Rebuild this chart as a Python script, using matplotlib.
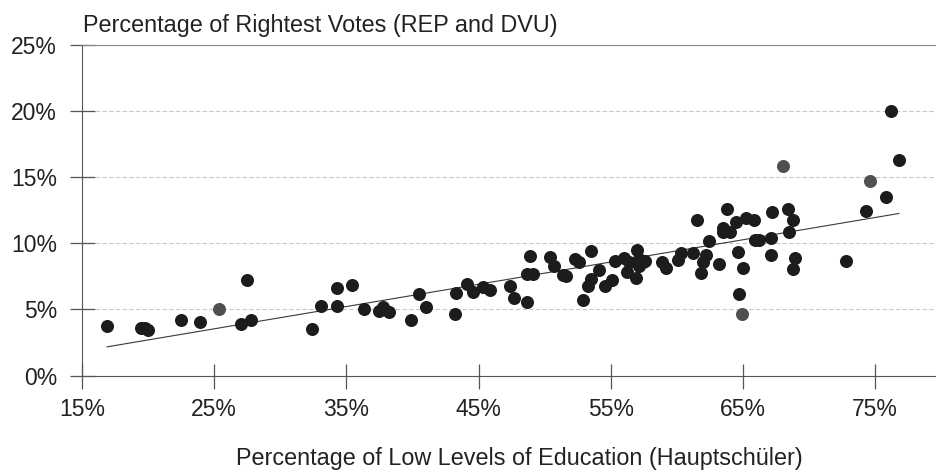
import numpy as np
import matplotlib
matplotlib.use('Agg')
import matplotlib.pyplot as plt
from matplotlib.ticker import PercentFormatter

plt.rcParams['font.family'] = ['Liberation Sans', 'DejaVu Sans']

# low education share (%) and rightist vote share (%), dark points
edu = [16.9, 19.5, 19.8, 20.0, 22.5, 23.9, 27.5, 27.0, 27.8,
       32.4, 33.1, 34.3, 34.3, 35.4, 36.3, 37.5, 37.8, 38.2, 39.9,
       40.5, 41.0, 43.3, 43.2, 44.1, 44.6, 45.3, 45.9, 47.4, 47.7,
       48.7, 48.9, 48.7, 49.1, 50.4, 50.7, 51.4, 51.6, 52.3, 52.6,
       53.5, 52.9, 53.3, 53.5, 54.1, 54.6, 55.1, 55.3, 56.0, 56.2,
       56.4, 56.9, 57.0, 57.1, 57.4, 57.6, 57.1, 58.9, 59.2, 60.1,
       60.3, 61.2, 61.5, 61.8, 62.0, 62.2, 62.4, 63.2, 63.5, 63.5,
       63.8, 64.0, 64.5, 64.6, 65.0, 64.7, 65.2, 65.8, 65.9, 66.2,
       67.1, 67.1, 67.2, 68.4, 68.5, 68.8, 68.9, 68.8, 72.8, 74.3,
       75.8, 76.2, 76.8]
votes = [3.77, 3.57, 3.62, 3.42, 4.23, 4.03, 7.23, 3.92, 4.18,
         3.55, 5.27, 6.60, 5.27, 6.88, 5.01, 4.89, 5.21, 4.79, 4.20,
         6.20, 5.19, 6.23, 4.63, 6.93, 6.33, 6.68, 6.48, 6.78, 5.87,
         5.57, 9.05, 7.67, 7.67, 8.95, 8.27, 7.59, 7.49, 8.80, 8.60,
         9.41, 5.70, 6.78, 7.31, 7.97, 6.80, 7.21, 8.67, 8.92, 7.82,
         8.60, 7.35, 9.52, 8.85, 8.55, 8.65, 8.25, 8.62, 8.12, 8.75,
         9.26, 9.26, 11.78, 7.74, 8.62, 9.13, 10.14, 8.45, 11.15, 10.82,
         12.59, 10.82, 11.58, 9.33, 8.17, 6.17, 11.88, 11.76, 10.27, 10.27,
         10.39, 9.15, 12.36, 12.59, 10.89, 11.73, 8.92, 8.07, 8.67, 12.41,
         13.52, 20.0, 16.33]

# a few points printed lighter in the original
edu_light = [25.4, 64.9, 68.0, 74.6]
votes_light = [5.01, 4.66, 15.82, 14.73]

x_ticks = [15, 25, 35, 45, 55, 65, 75]
y_ticks = [0, 5, 10, 15, 20, 25]

all_x = np.array(edu + edu_light)
all_y = np.array(votes + votes_light)
slope, icpt = np.polyfit(all_x, all_y, 1)
xs = np.array([all_x.min(), all_x.max()])

fig = plt.figure(figsize=(9.37, 4.71), dpi=100)
ax = fig.add_axes([0.0875, 0.2027, 0.91, 0.7018])

ax.scatter(edu, votes, s=88, color='#1c1c1c', zorder=3, linewidths=0)
ax.scatter(edu_light, votes_light, s=88, color='#505050', zorder=3, linewidths=0)
ax.plot(xs, icpt + slope * xs, color='#3a3a3a', lw=0.8, zorder=2)

ax.set_xlim(15, 79.5)
ax.set_ylim(0, 25)
ax.set_xticks(x_ticks)
ax.set_yticks(y_ticks)
ax.xaxis.set_major_formatter(PercentFormatter(decimals=0))
ax.yaxis.set_major_formatter(PercentFormatter(decimals=0))

ax.grid(axis='y', color='#c8c8c8', lw=0.8, linestyle=(0, (4, 2)))
ax.set_axisbelow(True)
ax.spines['right'].set_visible(False)
ax.spines['top'].set_color('#888888')
ax.spines['left'].set_color('#555555')
ax.spines['bottom'].set_color('#555555')

ax.tick_params(axis='y', direction='inout', length=18, width=0.9, color='#555555',
               labelsize=16.5, pad=9, labelcolor='#222222')
ax.tick_params(axis='x', direction='inout', length=18, width=0.9, color='#555555',
               labelsize=16.5, pad=7, labelcolor='#222222')

fig.text(83 / 937, 1 - 32 / 471, 'Percentage of Rightest Votes (REP and DVU)',
         fontsize=16.8, color='#222222', ha='left', va='baseline')
fig.text(519 / 937, 1 - 465 / 471, 'Percentage of Low Levels of Education (Hauptschüler)',
         fontsize=16.8, color='#222222', ha='center', va='baseline')

fig.savefig('out.png', dpi=100)
